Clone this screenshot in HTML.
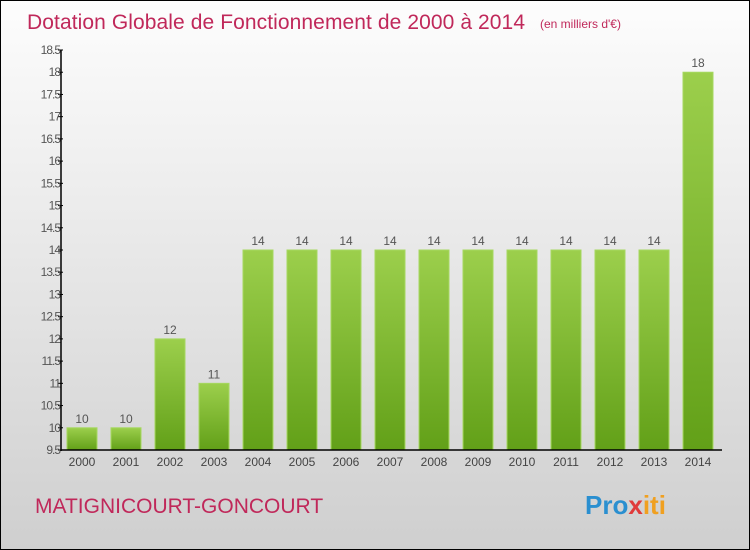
<!DOCTYPE html>
<html><head><meta charset="utf-8"><style>
body{margin:0}
#c{position:relative;width:750px;height:550px;box-sizing:border-box;border:1px solid #000;background:linear-gradient(#fdfdfd,#cfcfcf);font-family:"Liberation Sans",sans-serif;overflow:hidden}
</style></head><body>
<div id="c">
<svg width="750" height="550" style="position:absolute;left:-1px;top:-1px" id="s">
<defs><linearGradient id="g" x1="0" y1="0" x2="0" y2="1"><stop offset="0" stop-color="#9ccf4c"/><stop offset="1" stop-color="#62a018"/></linearGradient></defs>
<text x="27" y="29" font-size="21" fill="#c0285a" textLength="498">Dotation Globale de Fonctionnement de 2000 à 2014</text>
<text x="540" y="28" font-size="12" fill="#c0285a">(en milliers d'€)</text>
<text x="35" y="513" font-size="21" fill="#c0285a">MATIGNICOURT-GONCOURT</text>
<text x="585" y="514" font-size="26" font-weight="bold" fill="#2a8fd0">Pro<tspan fill="#e03a3a">x</tspan><tspan fill="#f0a020">iti</tspan></text>
<g id="plot"></g>
</svg>
</div>
<script>
const years=["2000","2001","2002","2003","2004","2005","2006","2007","2008","2009","2010","2011","2012","2013","2014"];
const values=[10,10,12,11,14,14,14,14,14,14,14,14,14,14,18];
const yTicks=["9.5","10","10.5","11","11.5","12","12.5","13","13.5","14","14.5","15","15.5","16","16.5","17","17.5","18","18.5"];
const NS="http://www.w3.org/2000/svg";
const p=document.getElementById('plot');
const y=v=>450-(v-9.5)*400/9;
const x=i=>82+i*44;
function mk(t,a,txt){const e=document.createElementNS(NS,t);for(const k in a)e.setAttribute(k,a[k]);if(txt!==undefined)e.textContent=txt;p.appendChild(e);return e;}
values.forEach((v,i)=>{
 const r=mk('rect',{x:x(i)-15,y:y(v),width:30,height:450-y(v),fill:'url(#g)',stroke:'#a6d860','stroke-width':1});
 
 
 const l=mk('text',{x:x(i),y:y(v)-5,'font-size':12,fill:'#555','text-anchor':'middle'},String(v));
 
 
 const t=mk('text',{x:x(i),y:466,'font-size':12,fill:'#444','text-anchor':'middle'},years[i]);
 
 
});
yTicks.forEach(s=>{
 const v=parseFloat(s);
 mk('line',{x1:58,x2:63,y1:y(v),y2:y(v),stroke:'#000'});
 const t=mk('text',{x:60,y:y(v)+4,'font-size':12,fill:'#555','text-anchor':'end','letter-spacing':'-1'},s);
 
 
});
const ya=mk('line',{x1:61,x2:61,y1:50,y2:451,stroke:'#000','stroke-width':1.5});


const xa=mk('line',{x1:61,x2:722,y1:450,y2:450,stroke:'#000','stroke-width':1.5});


</script>
</body></html>
